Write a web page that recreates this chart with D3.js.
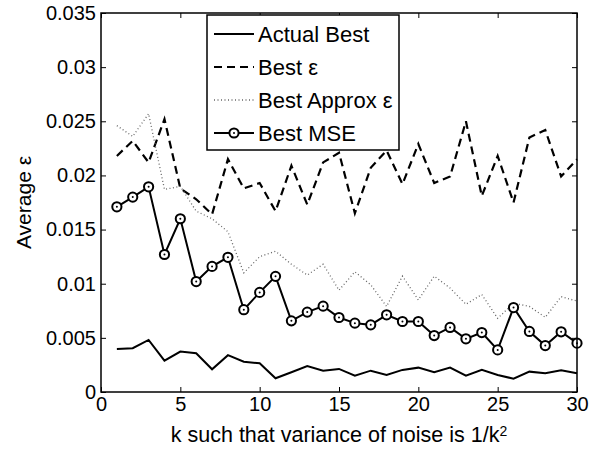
<!DOCTYPE html>
<html>
<head>
<meta charset="utf-8">
<script src="https://cdn.jsdelivr.net/npm/d3@7"></script>
<style>
  body { margin: 0; background: #fff; }
  text { font-family: "Liberation Sans", Arial, sans-serif; fill: #000; }
</style>
</head>
<body>
<svg width="596" height="452"></svg>
<script>
// data
const ks = d3.range(1, 31);
const actualBest = [0.00398, 0.00404, 0.00481, 0.0029, 0.00373, 0.00358, 0.0021, 0.0034, 0.0028, 0.00265,
  0.00127, 0.00182, 0.0024, 0.00197, 0.00213, 0.00151, 0.00197, 0.00157, 0.00204, 0.00225,
  0.00182, 0.00225, 0.00151, 0.00204, 0.00157, 0.00123, 0.00188, 0.00173, 0.002, 0.00173];
const bestEps = [0.0218, 0.0232, 0.0212, 0.0252, 0.0188, 0.0178, 0.0164, 0.0215, 0.0188, 0.0193,
  0.0167, 0.0209, 0.0173, 0.0212, 0.0221, 0.0165, 0.0207, 0.0223, 0.0192, 0.0229,
  0.0193, 0.0199, 0.0250, 0.0181, 0.0218, 0.0175, 0.0235, 0.0242, 0.0199, 0.0215];
const bestApprox = [0.0246, 0.0236, 0.0257, 0.0187, 0.0190, 0.0167, 0.0160, 0.0148, 0.0110, 0.0125,
  0.0130, 0.0118, 0.0108, 0.0118, 0.0094, 0.0111, 0.0099, 0.0079, 0.0107, 0.0085,
  0.0107, 0.0096, 0.0081, 0.0090, 0.0068, 0.0082, 0.0079, 0.0069, 0.0088, 0.0084];
const bestMSE = [0.0171, 0.0180, 0.01895, 0.0127, 0.0160, 0.0102, 0.0116, 0.01244, 0.0076, 0.0092,
  0.01068, 0.00657, 0.00738, 0.00793, 0.00688, 0.00636, 0.0062, 0.00713, 0.00651, 0.00651,
  0.00521, 0.00596, 0.00491, 0.00549, 0.00389, 0.0078, 0.00559, 0.00429, 0.00556, 0.00451];

const xTicks = [0, 5, 10, 15, 20, 25, 30];
const yTicks = [0, 0.005, 0.01, 0.015, 0.02, 0.025, 0.03, 0.035];
const seriesNames = ["Actual Best", "Best \u03b5", "Best Approx \u03b5", "Best MSE"];

const svg = d3.select("svg");
const width = +svg.attr("width");
const height = +svg.attr("height");
const margin = { top: 13, right: 19, bottom: 60, left: 101 };
const innerWidth = width - margin.left - margin.right;
const innerHeight = height - margin.top - margin.bottom;

const xScale = d3.scaleLinear().domain([0, 30]).range([0, innerWidth]);
const yScale = d3.scaleLinear().domain([0, 0.035]).range([innerHeight, 0]);

const g = svg.append("g").attr("transform", `translate(${margin.left},${margin.top})`);

// line styles per series
const styles = [
  { data: actualBest, stroke: "#000", width: 2, dash: null, marker: false },
  { data: bestEps, stroke: "#000", width: 2.2, dash: "8,5", marker: false },
  { data: bestApprox, stroke: "#666", width: 1.3, dash: "1,2.5", marker: false },
  { data: bestMSE, stroke: "#000", width: 2, dash: null, marker: true }
];

const line = d3.line()
  .x((d, i) => xScale(ks[i]))
  .y((d) => yScale(d));

styles.forEach((s) => {
  g.append("path")
    .datum(s.data)
    .attr("fill", "none")
    .attr("stroke", s.stroke)
    .attr("stroke-width", s.width)
    .attr("stroke-dasharray", s.dash)
    .attr("stroke-linejoin", "miter")
    .attr("d", line);
  if (s.marker) {
    g.selectAll(null)
      .data(s.data)
      .enter()
      .append("circle")
      .attr("cx", (d, i) => xScale(ks[i]))
      .attr("cy", (d) => yScale(d))
      .attr("r", 4.6)
      .attr("fill", "#fff")
      .attr("stroke", "#000")
      .attr("stroke-width", 2);
    g.selectAll(null)
      .data(s.data)
      .enter()
      .append("circle")
      .attr("cx", (d, i) => xScale(ks[i]))
      .attr("cy", (d) => yScale(d))
      .attr("r", 1)
      .attr("fill", "#000");
  }
});

// axes, ticks pointing inward on all four sides
const yFmt = (d) => (d === 0 ? "0" : String(+d.toFixed(3)));

const styleAxis = (sel) => {
  sel.select(".domain").remove();
  sel.selectAll(".tick line").attr("stroke", "#000").attr("stroke-width", 1);
  sel.selectAll("text").style("font-size", "20px").attr("fill", "#000");
};

g.append("g")
  .attr("transform", `translate(0,${innerHeight})`)
  .call(d3.axisBottom(xScale).tickValues(xTicks).tickSizeInner(-5).tickSizeOuter(0).tickPadding(5))
  .call(styleAxis);

g.append("g")
  .call(d3.axisLeft(yScale).tickValues(yTicks).tickFormat(yFmt).tickSizeInner(-5).tickSizeOuter(0).tickPadding(5))
  .call(styleAxis);

// top and right ticks, no labels
g.append("g")
  .call(d3.axisTop(xScale).tickValues(xTicks).tickSizeInner(-5).tickSizeOuter(0))
  .call(styleAxis)
  .selectAll("text").remove();

g.append("g")
  .attr("transform", `translate(${innerWidth},0)`)
  .call(d3.axisRight(yScale).tickValues(yTicks).tickSizeInner(-5).tickSizeOuter(0))
  .call(styleAxis)
  .selectAll("text").remove();

// frame
g.append("rect")
  .attr("width", innerWidth)
  .attr("height", innerHeight)
  .attr("fill", "none")
  .attr("stroke", "#000")
  .attr("stroke-width", 1.5);

// axis labels
const xLabel = g.append("text")
  .attr("x", innerWidth / 2)
  .attr("y", innerHeight + 50)
  .attr("text-anchor", "middle")
  .style("font-size", "21.5px");
xLabel.append("tspan").text("k such that variance of noise is 1/k");
xLabel.append("tspan").attr("dy", "-0.45em").style("font-size", "14px").text("2");

g.append("text")
  .attr("transform", `translate(${-70},${innerHeight / 2}) rotate(-90)`)
  .attr("text-anchor", "middle")
  .style("font-size", "21px")
  .text("Average \u03b5");

// legend
const legend = g.append("g").attr("transform", `translate(${207 - margin.left},${15 - margin.top})`);
legend.append("rect")
  .attr("width", 192)
  .attr("height", 135)
  .attr("fill", "#fff")
  .attr("stroke", "#000")
  .attr("stroke-width", 1.5);

const rowY = (i) => 19 + i * 33;
styles.forEach((s, i) => {
  const row = legend.append("g").attr("transform", `translate(0,${rowY(i)})`);
  row.append("line")
    .attr("x1", 7).attr("x2", 47)
    .attr("stroke", s.stroke)
    .attr("stroke-width", s.width)
    .attr("stroke-dasharray", s.dash);
  if (s.marker) {
    row.append("circle").attr("cx", 27).attr("r", 4.6)
      .attr("fill", "#fff").attr("stroke", "#000").attr("stroke-width", 2);
    row.append("circle").attr("cx", 27).attr("r", 1).attr("fill", "#000");
  }
  row.append("text")
    .attr("x", 51)
    .attr("dy", "0.36em")
    .style("font-size", "22px")
    .text(seriesNames[i]);
});
</script>
</body>
</html>
